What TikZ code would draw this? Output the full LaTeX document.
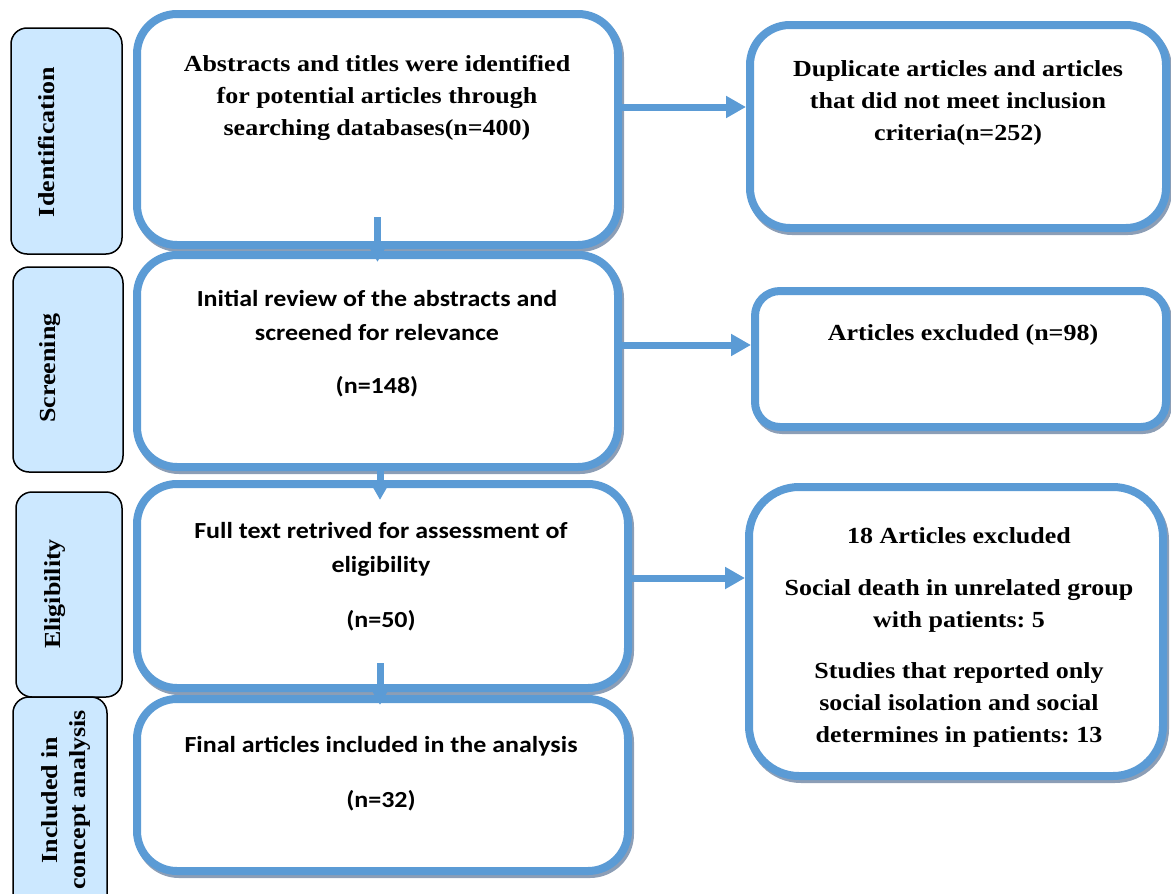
\documentclass[tikz,border=0pt]{standalone}
\usepackage{fontspec}
\setmainfont{Liberation Serif}[FakeStretch=1.13]
\newfontfamily\calib{Carlito}[FakeStretch=1.13]
\usetikzlibrary{arrows.meta,positioning}
\definecolor{boxblue}{RGB}{91,155,213}
\definecolor{tagfill}{RGB}{204,232,255}
\definecolor{shadowc}{RGB}{140,158,182}
\frenchspacing

\begin{document}
\begin{tikzpicture}[x=1pt,y=-1pt,
	mainbox/.style={draw=boxblue,line width=8pt,fill=white,rounded corners=#1,
		outer sep=0pt,inner sep=0pt,anchor=north west,
		preaction={draw=shadowc,line width=8pt,transform canvas={shift={(2pt,-3pt)}}}},
	mainbox/.default=40pt,
	tagbox/.style={draw=black,line width=1.5pt,fill=tagfill,rounded corners=16pt,
		outer sep=0pt,inner sep=0pt,anchor=north west},
	serif/.style={font=\bfseries\fontsize{23}{32}\selectfont,align=center,anchor=base,inner sep=0pt},
	sans/.style={font=\calib\bfseries\fontsize{23}{34}\selectfont,align=center,anchor=base,inner sep=0pt},
	tagtxt/.style={font=\bfseries\fontsize{23}{28}\selectfont,align=center,rotate=90,inner sep=0pt},
	flow/.style={draw=boxblue,line width=7pt,-{Triangle[width=21pt,length=20pt]}}]
			\useasboundingbox (0,0) rectangle (1171,894);
			% stage tags
			\node[tagbox,minimum width=111,minimum height=226] (l1) at (11,28) {};
			\node[tagbox,minimum width=110,minimum height=205] (l2) at (13,267) {};
			\node[tagbox,minimum width=106,minimum height=205] (l3) at (16,492) {};
			\node[tagbox,minimum width=94,minimum height=215] (l4) at (13,697) {};
			\node[tagtxt] (s1) at (47,142) {Identification};
			\node[tagtxt] (s2) at (50,368) {Screening};
			\node[tagtxt] (s3) at (55,594) {Eligibility};
			\node[tagtxt] (s4) at (66,800) {Included in\\concept analysis};
			% main column
			\node[mainbox,minimum width=481,minimum height=231] (b1) at (137,14) {};
			\node[mainbox,minimum width=481,minimum height=212] (b2) at (137,255) {};
			\node[mainbox,minimum width=491,minimum height=204] (b3) at (137,484) {};
			\node[mainbox,minimum width=491,minimum height=172] (b4) at (137,699) {};
			% excluded column
			\node[mainbox,minimum width=416,minimum height=203] (r1) at (750,25) {};
			\node[mainbox=25pt,minimum width=411,minimum height=136] (r2) at (755,291) {};
			\node[mainbox=50pt,minimum width=414,minimum height=289] (r3) at (749,487) {};
			% texts (placed at the baseline of their last line)
			\node[serif] (t1) at (377,135) {Abstracts and titles were identified\\for potential articles through\\searching databases(n=400)};
			\node[sans] (t2) at (377,393) {Initial review of the abstracts and\\screened for relevance\\[19pt](n=148)};
			\node[sans] (t3) at (381,627) {Full text retrived for assessment of\\eligibility\\[21pt](n=50)};
			\node[sans] (t4) at (381,807) {Final articles included in the analysis\\[21pt](n=32)};
			\node[serif] (u1) at (958,140) {Duplicate articles and articles\\that did not meet inclusion\\criteria(n=252)};
			\node[serif] (u2) at (963,340) {Articles excluded (n=98)};
			\node[serif] (u3) at (959,742) {18 Articles excluded\\[20pt]Social death in unrelated group\\with patients: 5\\[19pt]Studies that reported only\\social isolation and social\\determines in patients: 13};
			% arrows
			\coordinate (h1) at ([yshift=22.5pt]b1.east);
			\coordinate (h2) at ([yshift=16pt]b2.east);
			\coordinate (h3) at ([yshift=8pt]b3.east);
			\draw[flow] (h1) -- ([xshift=-4pt]h1 -| r1.west);
			\draw[flow] (h2) -- ([xshift=-4pt]h2 -| r2.west);
			\draw[flow] (h3) -- ([xshift=-4pt]h3 -| r3.west);
			\draw[flow] ([yshift=28pt]b1.south) -- ([yshift=-7pt]b2.north);
			\draw[flow] ([xshift=2.5pt]b2.south) -- ++(0,33);
			\draw[flow] ([xshift=-2.5pt,yshift=25pt]b3.south) -- ([xshift=-2.5pt,yshift=-6pt]b4.north);
		\end{tikzpicture}
\end{document}
